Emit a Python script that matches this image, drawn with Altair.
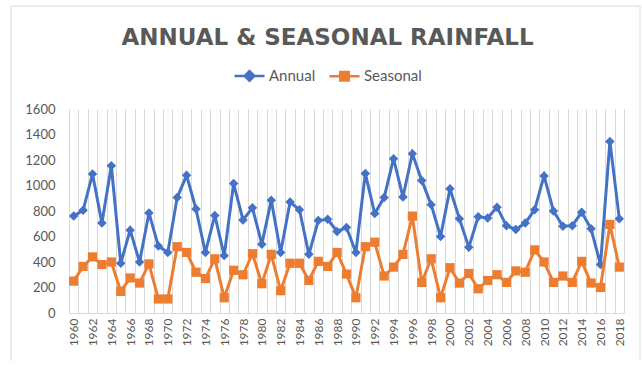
import altair as alt
import pandas as pd

# Rainfall series, one value per year
years = list(range(1960, 2019))
annual = [760, 805, 1090, 705, 1155, 390, 650, 400, 785, 525,
          475, 905, 1080, 815, 475, 765, 450, 1015, 730, 825,
          540, 885, 475, 870, 810, 460, 725, 735, 640, 670,
          475, 1095, 780, 905, 1210, 910, 1250, 1040, 850, 600,
          975, 740, 515, 755, 745, 830, 685, 655, 705, 810,
          1075, 800, 680, 685, 790, 660, 380, 1345, 740]
seasonal = [250, 365, 440, 380, 400, 170, 275, 235, 385, 110,
            110, 520, 475, 320, 270, 425, 120, 335, 300, 465,
            230, 460, 175, 390, 390, 255, 405, 365, 475, 305,
            120, 520, 555, 290, 360, 460, 760, 240, 425, 120,
            355, 235, 310, 190, 255, 300, 240, 330, 320, 495,
            400, 240, 290, 240, 405, 235, 200, 695, 360]
series_names = ["Annual", "Seasonal"]
series_colors = ["#4472C4", "#ED7D31"]
series_markers = ["diamond", "square"]
y_ticks = list(range(0, 1601, 200))

df = pd.concat([
    pd.DataFrame({"year": years, "value": annual, "series": "Annual"}),
    pd.DataFrame({"year": years, "value": seasonal, "series": "Seasonal"}),
])

TEXT = "#595959"
GRID = "#D9D9D9"
FONT = "Lato"

# Legend keys: a short line with the series marker in the middle
# (nested outlines so the stroke fills the marker solid)
key_paths = [
    "M-3,0H3"
    "M0,-0.95L0.95,0L0,0.95L-0.95,0Z"
    "M0,-0.55L0.55,0L0,0.55L-0.55,0Z"
    "M0,-0.15L0.15,0L0,0.15L-0.15,0Z",
    "M-3,0H3"
    "M-0.85,-0.85H0.85V0.85H-0.85Z"
    "M-0.45,-0.45H0.45V0.45H-0.45Z"
    "M-0.1,-0.1H0.1V0.1H-0.1Z",
]

x_enc = alt.X(
    "year:O",
    bandPosition=0.5,
    scale=alt.Scale(type="band", paddingInner=0, paddingOuter=0),
    axis=alt.Axis(
        title=None, labelAngle=-90, labelOverlap=False,
        labelExpr="datum.value % 2 == 0 ? datum.label : ''",
        grid=True, gridColor=GRID, gridWidth=1, tickBand="extent",
        ticks=False, domainColor=GRID, labelPadding=5,
        labelFont=FONT, labelFontSize=12, labelColor=TEXT,
    ),
)
y_enc = alt.Y(
    "value:Q",
    scale=alt.Scale(domain=[0, 1600], nice=False),
    axis=alt.Axis(
        title=None, values=y_ticks, format="d", grid=False, domain=False,
        ticks=False, labelPadding=14, labelFont=FONT, labelFontSize=13,
        labelColor=TEXT,
    ),
)

# One line + marker layer per series
series_layers = []
for name, col, marker in zip(series_names, series_colors, series_markers):
    base = alt.Chart(df).transform_filter(f"datum.series === '{name}'")
    series_layers.append(
        base.mark_line(strokeWidth=3, color=col).encode(x=x_enc, y=y_enc)
    )
    series_layers.append(
        base.mark_point(filled=True, shape=marker, color=col,
                        size=90 if marker == "diamond" else 85,
                        opacity=1).encode(x=x_enc, y=y_enc)
    )

legend = alt.Legend(
    title=None, orient="none", direction="horizontal",
    legendX=173, legendY=-41, padding=0,
    symbolSize=100, symbolStrokeWidth=2.5, symbolOpacity=1,
    labelOffset=12, columnPadding=8,
    labelFont=FONT, labelFontSize=15, labelColor=TEXT,
)

# Layer with no rows that only carries the legend
keys = alt.Chart(df).transform_filter("false").mark_point(
    filled=False, opacity=1, strokeWidth=2.5
).encode(
    x=x_enc, y=y_enc,
    color=alt.Color("series:N",
                    scale=alt.Scale(domain=series_names, range=series_colors),
                    legend=legend),
    shape=alt.Shape("series:N",
                    scale=alt.Scale(domain=series_names, range=key_paths),
                    legend=legend),
)

# Thin outline around the whole chart area
frame = alt.Chart(alt.Data(values=[{"k": 1}])).mark_rect(
    fill="transparent", stroke=GRID, strokeWidth=1
).encode(
    x=alt.value(-58), x2=alt.value(571), y=alt.value(-103), y2=alt.value(254)
)

chart = alt.layer(frame, *series_layers, keys).properties(
    width=555,
    height=204,
    title=alt.TitleParams(
        text="ANNUAL & SEASONAL RAINFALL",
        font="DejaVu Sans", fontSize=23, fontWeight="bold", color=TEXT,
        anchor="middle", dx=-19, offset=0, dy=62, baseline="alphabetic",
    ),
    padding={"left": 69, "top": 109, "right": 18, "bottom": 48},
    autosize=alt.AutoSizeParams(type="none"),
    background="white",
).configure_view(stroke=None)

chart.save("out.html", embed_options={"renderer": "svg", "actions": False})
